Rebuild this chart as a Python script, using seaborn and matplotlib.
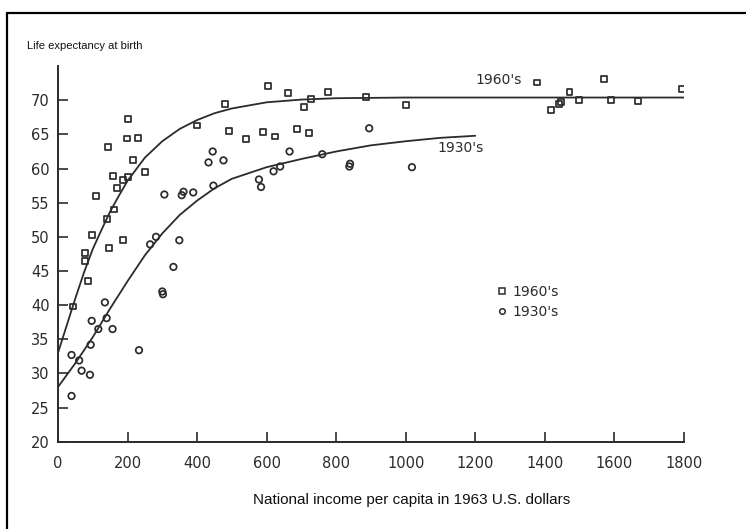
import matplotlib
matplotlib.use("Agg")
import matplotlib.pyplot as plt
from matplotlib.lines import Line2D
import seaborn as sns
import pandas as pd

# Observations: national income per capita (1963 US$) and life expectancy at birth
income_1960s = [202, 198, 229, 143, 217, 250, 159, 188, 202, 171, 109, 161, 142, 97,
                188, 148, 79, 78, 87, 44, 605, 662, 777, 727, 708, 481, 399, 492,
                541, 589, 625, 688, 721, 885, 1000, 1378, 1571, 1795, 1471, 1446,
                1440, 1418, 1499, 1590, 1668]
life_1960s = [67.3, 64.4, 64.5, 63.1, 61.2, 59.5, 58.9, 58.3, 58.8, 57.1, 56.0, 54.0,
              52.6, 50.3, 49.5, 48.4, 47.6, 46.4, 43.5, 39.8, 72.1, 71.1, 71.2, 70.2,
              69.0, 69.4, 66.3, 65.5, 64.3, 65.4, 64.7, 65.8, 65.2, 70.5, 69.3, 72.6,
              73.1, 71.7, 71.2, 69.7, 69.4, 68.6, 70.0, 70.0, 69.9]

income_1930s = [306, 265, 282, 349, 332, 300, 302, 135, 97, 140, 116, 157, 94, 233,
                39, 61, 68, 92, 39, 445, 433, 476, 666, 760, 639, 620, 578, 584, 447,
                356, 361, 389, 895, 838, 840, 1018]
life_1930s = [56.2, 48.9, 50.0, 49.5, 45.6, 42.0, 41.6, 40.4, 37.7, 38.1, 36.5, 36.5,
              34.2, 33.4, 32.7, 31.9, 30.4, 29.8, 26.7, 62.5, 60.9, 61.2, 62.5, 62.1,
              60.3, 59.6, 58.4, 57.3, 57.5, 56.1, 56.6, 56.5, 65.9, 60.3, 60.7, 60.2]

# Fitted curves
curve_1960s_x = [0, 25, 50, 75, 100, 125, 150, 175, 200, 250, 300, 350, 400, 450, 500,
                 600, 700, 800, 1000, 1400, 1800]
curve_1960s_y = [33.0, 37.0, 41.0, 44.8, 48.2, 51.0, 53.7, 56.0, 58.2, 61.6, 64.0, 65.8,
                 67.1, 68.1, 68.8, 69.7, 70.1, 70.3, 70.4, 70.4, 70.4]
curve_1930s_x = [0, 50, 100, 150, 200, 250, 300, 350, 400, 450, 500, 600, 700, 800, 900,
                 1000, 1100, 1200]
curve_1930s_y = [28.0, 31.5, 35.3, 39.5, 43.5, 47.3, 50.5, 53.2, 55.3, 57.1, 58.5, 60.2,
                 61.4, 62.5, 63.4, 64.0, 64.5, 64.8]

x_ticks = [0, 200, 400, 600, 800, 1000, 1200, 1400, 1600, 1800]
y_ticks = [20, 25, 30, 35, 40, 45, 50, 55, 60, 65, 70]

ink = "#2b2b2b"

sns.set_theme(style="ticks")
plt.rcParams["font.family"] = ["DejaVu Sans"]

fig = plt.figure(figsize=(7.46, 5.29), dpi=100)
ax = fig.add_axes([0.0777, 0.165, 0.839, 0.71])

df60 = pd.DataFrame({"income": income_1960s, "life": life_1960s})
df30 = pd.DataFrame({"income": income_1930s, "life": life_1930s})
c60 = pd.DataFrame({"income": curve_1960s_x, "life": curve_1960s_y})
c30 = pd.DataFrame({"income": curve_1930s_x, "life": curve_1930s_y})

sns.lineplot(data=c60, x="income", y="life", ax=ax, color=ink, linewidth=1.3, sort=True)
sns.lineplot(data=c30, x="income", y="life", ax=ax, color=ink, linewidth=1.3, sort=True)

sns.scatterplot(data=df60, x="income", y="life", ax=ax, marker="s", s=18,
                facecolors="none", edgecolors=ink, linewidth=1.25, label="1960's")
sns.scatterplot(data=df30, x="income", y="life", ax=ax, marker="o", s=22,
                facecolors="none", edgecolors=ink, linewidth=1.25, label="1930's")

ax.set_xlim(0, 1800)
ax.set_ylim(20, 75)
ax.set_xticks(x_ticks)
ax.set_yticks(y_ticks)
ax.set_xticklabels([str(t) for t in x_ticks])
ax.set_yticklabels([str(t) for t in y_ticks])
ax.tick_params(direction="in", length=7, width=1.2, colors=ink, labelsize=10.5, pad=6)
ax.tick_params(axis="x", pad=10)
ax.set_xlabel("")
ax.set_ylabel("")
sns.despine(ax=ax)
for side in ("left", "bottom"):
    ax.spines[side].set_color(ink)
    ax.spines[side].set_linewidth(1.4)

# Curve annotations
ax.text(1200, 73.0, "1960's", fontsize=10, color=ink, ha="left", va="center")
ax.text(1091, 63.0, "1930's", fontsize=10, color=ink, ha="left", va="center")

# Legend of marker shapes
handles = [
    Line2D([], [], marker="s", linestyle="none", markerfacecolor="none",
           markeredgecolor=ink, markersize=4.0, markeredgewidth=1.1),
    Line2D([], [], marker="o", linestyle="none", markerfacecolor="none",
           markeredgecolor=ink, markersize=4.0, markeredgewidth=1.1),
]
ax.legend(handles, ["1960's", "1930's"], frameon=False, loc="center left",
          bbox_to_anchor=(0.69, 0.372), handletextpad=0.2, handlelength=1.0,
          labelspacing=0.45, fontsize=10, labelcolor=ink, borderaxespad=0)

fig.text(0.036, 0.913, "Life expectancy at birth", fontsize=8,
         family=["Liberation Sans", "DejaVu Sans"], color="#111", ha="left", va="center")
fig.text(0.552, 0.055, "National income per capita in 1963 U.S. dollars", fontsize=11,
         family=["Liberation Sans", "DejaVu Sans"], color="#111", ha="center", va="center")

# Frame lines along the top and left edges
fig.add_artist(Line2D([0.0094, 1.0], [0.975, 0.975], transform=fig.transFigure,
                      color="black", linewidth=1.6))
fig.add_artist(Line2D([0.0094, 0.0094], [0.0, 0.975], transform=fig.transFigure,
                      color="black", linewidth=1.6))

fig.savefig("out.png", dpi=100, facecolor="white")
